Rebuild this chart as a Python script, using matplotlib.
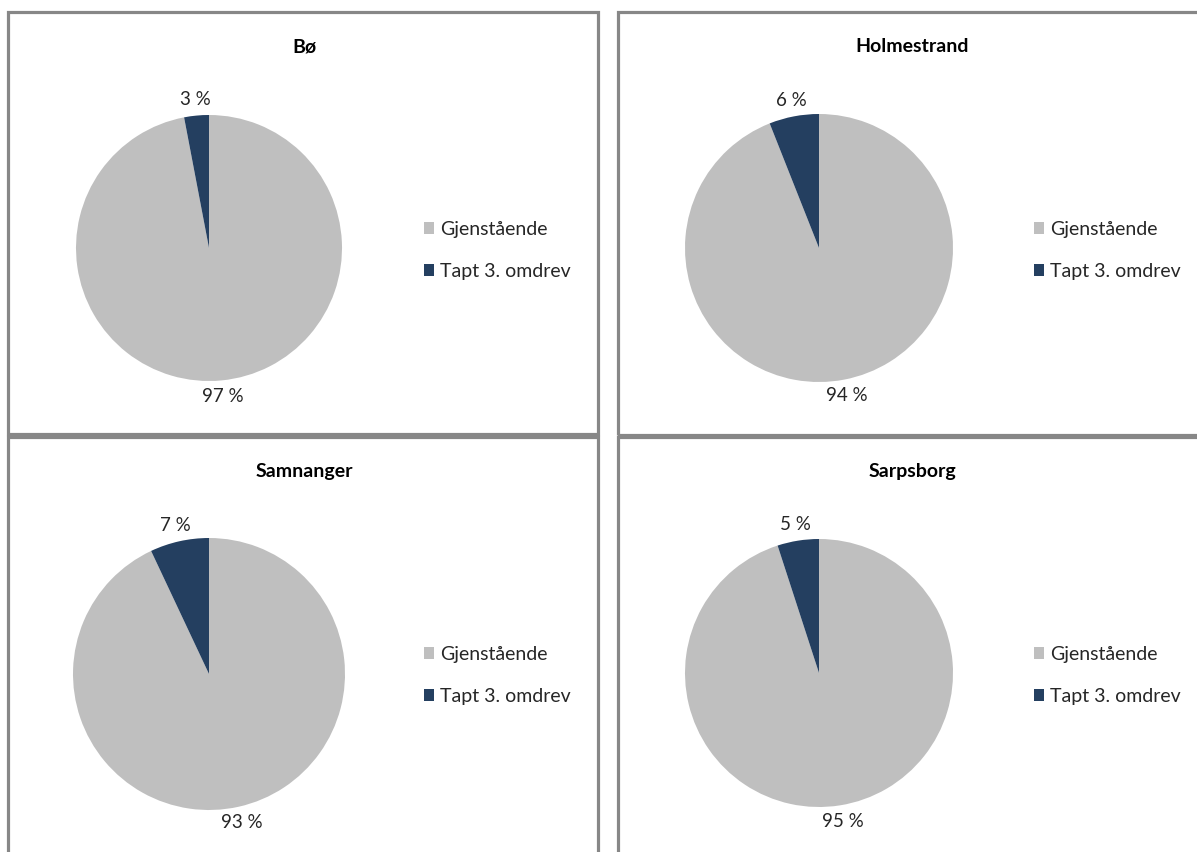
import matplotlib.pyplot as plt
from matplotlib.patches import Rectangle

plt.rcParams['font.family'] = ['Lato', 'DejaVu Sans']

W, H = 1197, 852

# data
places = ['Bø', 'Holmestrand', 'Samnanger', 'Sarpsborg']
remaining = [97, 94, 93, 95]
lost = [3, 6, 7, 5]
labels = ['Gjenstående', 'Tapt 3. omdrev']
colors = ['#BFBFBF', '#243F60']

# layout in pixels: panel box (x0, y0, x1, y1), pie centre, radius
panels = [(8, 12, 598, 434), (618, 12, 1210, 435),
          (8, 437, 598, 870), (618, 437, 1210, 870)]
centres = [(209, 248, 133), (819, 248, 134), (209, 674, 136), (819, 673, 134)]
titles_xy = [(304, 47), (912, 47), (304, 472), (912, 472)]
legend_xy = [(414, 211), (1024, 211), (414, 636), (1024, 636)]

fig = plt.figure(figsize=(W / 100, H / 100), dpi=100)


def fx(x):
    return x / W


def fy(y):
    return 1 - y / H


for i, name in enumerate(places):
    x0, y0, x1, y1 = panels[i]
    fig.patches.append(Rectangle((fx(x0), fy(y1)), fx(x1 - x0), (y1 - y0) / H,
                                 transform=fig.transFigure, fill=False,
                                 edgecolor='#878787', linewidth=2.3))

    cx, cy, r = centres[i]
    ax = fig.add_axes([fx(cx - r), fy(cy + r), fx(2 * r), 2 * r / H])
    wedges, _, autotexts = ax.pie([remaining[i], lost[i]], colors=colors,
                                  startangle=90, counterclock=False,
                                  autopct=lambda p: f'{p:.0f} %',
                                  pctdistance=1.12,
                                  wedgeprops=dict(linewidth=0))
    for t in autotexts:
        t.set_fontsize(13.5)
        t.set_color('#262626')
    ax.set_xlim(-1, 1)
    ax.set_ylim(-1, 1)
    ax.set_aspect('equal')

    tx, ty = titles_xy[i]
    fig.text(fx(tx), fy(ty), name, ha='center', va='center',
             fontsize=14, fontweight='bold', color='black')

    lx, ly = legend_xy[i]
    fig.legend(wedges, labels, loc='upper left',
               bbox_to_anchor=(fx(lx), fy(ly)), frameon=False,
               fontsize=14, handlelength=0.55, handleheight=0.55,
               handletextpad=0.3, labelspacing=1.28, borderpad=0,
               labelcolor='#262626')

fig.savefig('out.png', dpi=100)
